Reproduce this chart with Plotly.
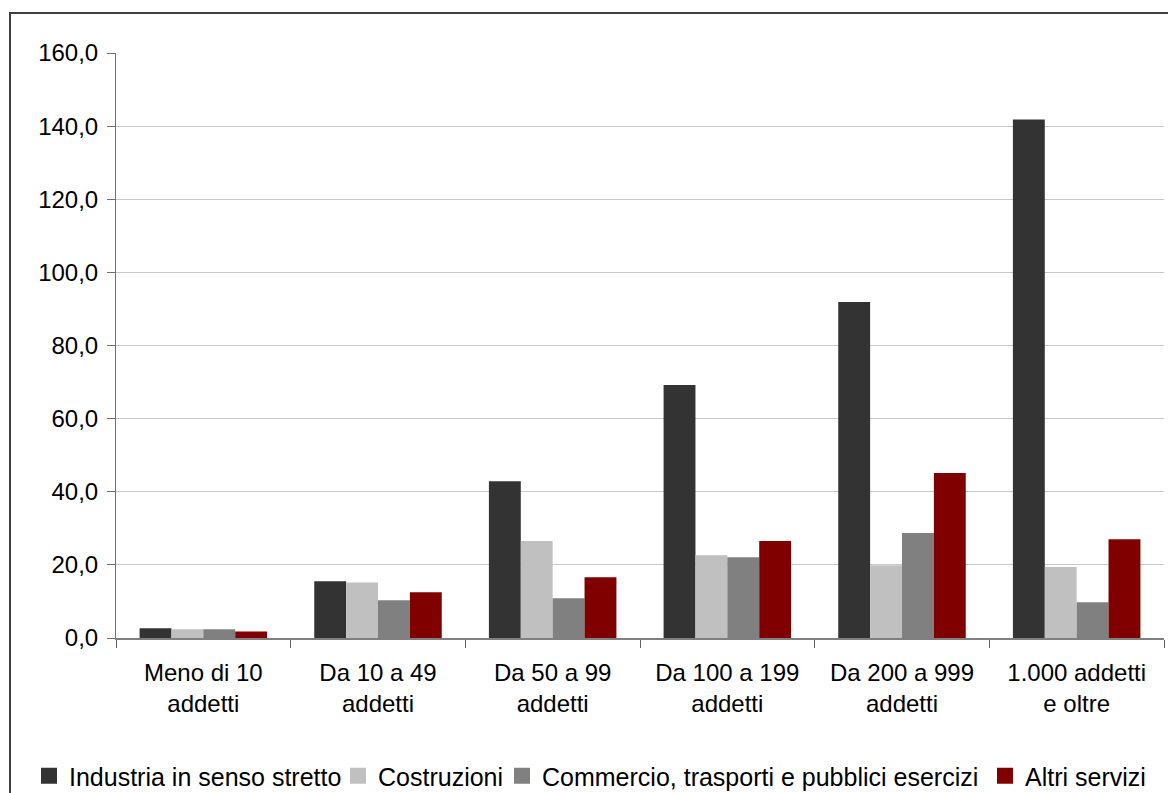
import plotly.graph_objects as go

categories = ["Meno di 10<br>addetti", "Da 10 a 49<br>addetti", "Da 50 a 99<br>addetti",
              "Da 100 a 199<br>addetti", "Da 200 a 999<br>addetti", "1.000 addetti<br>e oltre"]
industria = [2.7, 15.5, 42.9, 69.2, 91.9, 141.8]
costruzioni = [2.4, 15.2, 26.5, 22.6, 19.9, 19.4]
commercio = [2.4, 10.3, 10.9, 22.1, 28.7, 9.8]
altri = [1.8, 12.5, 16.6, 26.5, 45.1, 27.0]

series_names = ["Industria in senso stretto", "Costruzioni",
                "Commercio, trasporti e pubblici esercizi", "Altri servizi"]
series_values = [industria, costruzioni, commercio, altri]
series_colors = ["#333333", "#C0C0C0", "#808080", "#800000"]
legend_text_x = [69, 378, 542, 1025]   # pixel where each legend label starts

W, H = 1168, 793
L, R, T, B = 116, 4, 53, 155
pw, ph = W - L - R, H - T - B

fig = go.Figure()
for name, vals, col in zip(series_names, series_values, series_colors):
    fig.add_trace(go.Bar(x=categories, y=vals, name=name, marker_color=col,
                         marker_line_width=0, showlegend=False))

legend_ids = ["legend", "legend2", "legend3", "legend4"]
for name, col, lid in zip(series_names, series_colors, legend_ids):
    fig.add_trace(go.Scatter(x=[categories[0]], y=[None], mode="markers", name=name,
                             marker=dict(symbol="square", size=16, color=col),
                             legend=lid, showlegend=True, hoverinfo="skip"))

legend_common = dict(orientation="h", xanchor="left", xref="container",
                     y=(H - 776) / H, yanchor="middle", yref="container",
                     font=dict(size=25), itemwidth=30, bgcolor="rgba(0,0,0,0)",
                     borderwidth=0)
legends = {}
for lid, tx in zip(legend_ids, legend_text_x):
    legends[lid] = dict(legend_common, x=(tx - 40) / W)

fig.update_layout(
    width=W, height=H,
    margin=dict(l=L, r=R, t=T, b=B, pad=0, autoexpand=False),
    paper_bgcolor="white", plot_bgcolor="white",
    barmode="group", bargap=0.27, bargroupgap=0,
    font=dict(family="Liberation Sans, Arial, sans-serif", size=24, color="black"),
    showlegend=True,
    xaxis=dict(showgrid=False, showline=True, linecolor="#808080", linewidth=2,
               ticks="outside", tickson="boundaries", ticklen=8, tickcolor="#606060",
               tickwidth=1, tickfont=dict(size=24), automargin=False,
               ticklabelstandoff=12),
    yaxis=dict(range=[0, 160], dtick=20, tickformat=".1f", showgrid=True,
               gridcolor="#C8C8C8", gridwidth=1, showline=True, linecolor="#707070",
               linewidth=1, ticks="outside", ticklen=8, tickcolor="#707070",
               zeroline=False, tickfont=dict(size=24), automargin=False,
               ticklabelstandoff=4),
    separators=",.",
    **legends,
)

fig.add_shape(type="rect", xref="paper", yref="paper",
              x0=(10 - L) / pw, x1=(1200 - L) / pw,
              y0=(T + ph - 830) / ph, y1=1 + (T - 13) / ph,
              line=dict(color="#404040", width=2), fillcolor="rgba(0,0,0,0)", layer="below")

fig.write_html("out.html")
